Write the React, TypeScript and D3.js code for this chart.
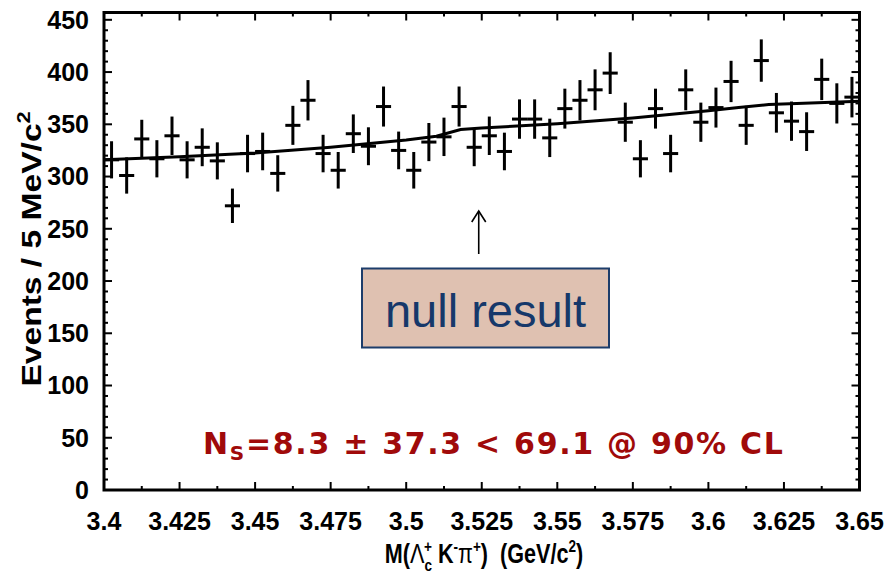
import React from 'react';
import * as d3 from 'd3';

const W = 888;
const H = 573;

// Histogram: 5 MeV/c^2 bins from 3.400 to 3.650 GeV/c^2
const binStart = 3.4;
const binWidth = 0.005;
const counts = [
  316, 301, 336, 317, 339, 316, 328, 315, 272, 322,
  324, 303, 349, 373, 322, 306, 341, 329, 367, 325,
  306, 333, 338, 367, 328, 339, 324, 355, 355, 337,
  365, 373, 383, 399, 352, 317, 365, 322, 383, 352,
  366, 391, 349, 411, 361, 353, 343, 393, 370, 376,
];

// Fitted background + signal curve
const fitMass = [3.4, 3.425, 3.45, 3.475, 3.5, 3.51, 3.518, 3.525, 3.55, 3.575, 3.6, 3.61, 3.62, 3.65];
const fitYield = [316, 319, 322.5, 328, 335, 338.5, 345, 346.5, 350.5, 356, 363, 366, 369, 372];

const xTicks = [3.4, 3.425, 3.45, 3.475, 3.5, 3.525, 3.55, 3.575, 3.6, 3.625, 3.65];
const xTickLabels = ['3.4', '3.425', '3.45', '3.475', '3.5', '3.525', '3.55', '3.575', '3.6', '3.625', '3.65'];
const xMinorTicks = [3.4125, 3.4375, 3.4625, 3.4875, 3.5125, 3.5375, 3.5625, 3.5875, 3.6125, 3.6375];
const yTicks = [0, 50, 100, 150, 200, 250, 300, 350, 400, 450];

const signalMass = 3.524;

const FONT = '"Liberation Sans", Arial, Helvetica, sans-serif';

export default function App() {
  const x = d3.scaleLinear().domain([3.4, 3.65]).range([104, 859.5]);
  const y = d3.scaleLinear().domain([0, 457]).range([490, 12.5]);
  const [x0, x1] = x.range();
  const [yb, yt] = y.range();

  const yMinor = d3.range(0, 457, 10).filter((v) => v % 50 !== 0);

  const fitLine = d3
    .line<number>()
    .x((_, i) => x(fitMass[i]))
    .y((d) => y(d))(fitYield) as string;

  const points = counts.map((n, i) => {
    const lo = binStart + i * binWidth;
    return { lo, hi: lo + binWidth, mid: lo + binWidth / 2, n, err: Math.sqrt(n) };
  });

  const ax = x(signalMass);

  return (
    <svg
      width={W}
      height={H}
      viewBox={`0 0 ${W} ${H}`}
      style={{ position: 'absolute', left: 0, top: 0, background: '#fff' }}
    >
      <rect x={0} y={0} width={W} height={H} fill="#fff" />

      {/* data points with errors */}
      <g stroke="#000" strokeWidth={3} fill="none">
        {points.map((p, i) => (
          <g key={i}>
            <line x1={x(p.lo)} x2={x(p.hi)} y1={y(p.n)} y2={y(p.n)} />
            <line x1={x(p.mid)} x2={x(p.mid)} y1={y(p.n - p.err)} y2={y(p.n + p.err)} />
          </g>
        ))}
      </g>

      {/* fit curve */}
      <path d={fitLine} fill="none" stroke="#000" strokeWidth={3} />

      {/* ticks */}
      <g stroke="#000" strokeWidth={2}>
        {xTicks.map((t) => (
          <g key={'xt' + t}>
            <line x1={x(t)} x2={x(t)} y1={yb} y2={yb - 8} />
            <line x1={x(t)} x2={x(t)} y1={yt} y2={yt + 8} />
          </g>
        ))}
        {xMinorTicks.map((t) => (
          <g key={'xm' + t}>
            <line x1={x(t)} x2={x(t)} y1={yb} y2={yb - 4} />
            <line x1={x(t)} x2={x(t)} y1={yt} y2={yt + 4} />
          </g>
        ))}
        {yTicks.map((t) => (
          <g key={'yt' + t}>
            <line x1={x0} x2={x0 + 8} y1={y(t)} y2={y(t)} />
            <line x1={x1} x2={x1 - 8} y1={y(t)} y2={y(t)} />
          </g>
        ))}
        {yMinor.map((t) => (
          <g key={'ym' + t}>
            <line x1={x0} x2={x0 + 4} y1={y(t)} y2={y(t)} />
            <line x1={x1} x2={x1 - 4} y1={y(t)} y2={y(t)} />
          </g>
        ))}
      </g>

      {/* frame */}
      <rect x={x0} y={yt} width={x1 - x0} height={yb - yt} fill="none" stroke="#000" strokeWidth={3} />

      {/* tick labels */}
      <g fontFamily={FONT} fontWeight="bold" fontSize={25} fill="#000">
        {xTicks.map((t, i) => (
          <text key={'xl' + t} x={x(t)} y={530} textAnchor="middle">
            {xTickLabels[i]}
          </text>
        ))}
        {yTicks.map((t) => (
          <text key={'yl' + t} x={89} y={y(t)} dy="0.35em" textAnchor="end">
            {t}
          </text>
        ))}
      </g>

      {/* axis titles */}
      <text
        transform="translate(41,249) rotate(-90) scale(1.2,1)"
        textAnchor="middle"
        fontFamily={FONT}
        fontWeight="bold"
        fontSize={28}
      >
        Events / 5 MeV/c<tspan dy={-11} fontSize={18}>2</tspan>
      </text>

      <text
        transform="translate(484,563) scale(0.8,1)"
        textAnchor="middle"
        fontFamily={FONT}
        fontWeight="bold"
        fontSize={27}
      >
        M(<tspan fontWeight="normal">Λ</tspan>
        <tspan dy={8} fontSize={17}>c</tspan>
        <tspan dx={-10} dy={-19} fontSize={17}>+</tspan>
        <tspan dy={11}>{'\u00a0K'}</tspan>
        <tspan dy={-11} fontSize={17}>-</tspan>
        <tspan dy={11} fontWeight="normal">π</tspan>
        <tspan dy={-11} fontSize={17}>+</tspan>
        <tspan dy={11}>{')\u00a0\u00a0(GeV/c'}</tspan>
        <tspan dy={-11} fontSize={17}>2</tspan>
        <tspan dy={11}>)</tspan>
      </text>

      {/* signal position marker */}
      <g stroke="#000" strokeWidth={1.6} fill="none">
        <line x1={ax} x2={ax} y1={254} y2={211} />
        <polyline points={`${ax - 7},${222} ${ax},${211} ${ax + 7},${222}`} />
      </g>

      {/* null result box */}
      <rect x={362} y={268.5} width={247} height={79} fill="#dfc1b1" stroke="#1d3d6b" strokeWidth={2} />
      <text x={485.5} y={327} textAnchor="middle" fontFamily={FONT} fontSize={47} fill="#16386a">
        null result
      </text>

      {/* fit result */}
      <text
        x={203}
        y={454}
        fontFamily='"DejaVu Sans", Verdana, sans-serif'
        fontWeight="bold"
        fontSize={30}
        letterSpacing={1.7}
        fill="#a00a0a"
      >
        N<tspan dy={6} fontSize={20}>S</tspan>
        <tspan dy={-6}>=8.3 ± 37.3 &lt; 69.1 @ 90% CL</tspan>
      </text>
    </svg>
  );
}
